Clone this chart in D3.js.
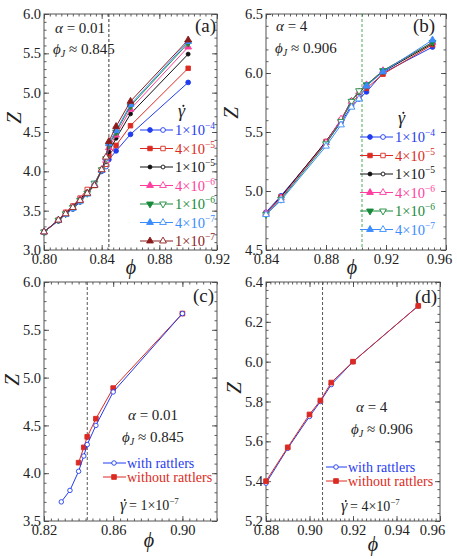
<!DOCTYPE html>
<html>
<head>
<meta charset="utf-8">
<script src="https://cdn.jsdelivr.net/npm/d3@7"></script>
<style>
body { margin: 0; background: #fff; }
</style>
</head>
<body>
<div id="chart"></div>
<script>

// panel (a): alpha = 0.01
var phiA = [0.80, 0.81, 0.815, 0.82, 0.825, 0.83, 0.835, 0.84, 0.843, 0.845, 0.85, 0.86, 0.90];
var zA_1e4 = [3.23, 3.37, 3.46, 3.52, 3.61, 3.72, 3.83, 4.00, 4.06, 4.15, 4.26, 4.47, 5.13];
var zA_4e5 = [3.23, 3.38, 3.48, 3.56, 3.66, 3.77, 3.82, 4.02, 4.09, 4.20, 4.33, 4.58, 5.31];
var zA_1e5 = [3.23, 3.38, 3.47, 3.55, 3.65, 3.74, 3.83, 4.02, 4.12, 4.25, 4.42, 4.73, 5.49];
var zA_4e6 = [3.23, 3.38, 3.46, 3.54, 3.64, 3.72, 3.83, 4.02, 4.14, 4.30, 4.46, 4.79, 5.58];
var zA_1e6 = [3.23, 3.38, 3.46, 3.54, 3.63, 3.72, 3.85, 4.02, 4.16, 4.33, 4.50, 4.83, 5.63];
var zA_4e7 = [3.23, 3.38, 3.45, 3.53, 3.62, 3.71, 3.83, 4.01, 4.17, 4.35, 4.52, 4.85, 5.65];
var zA_1e7 = [3.23, 3.38, 3.46, 3.54, 3.63, 3.72, 3.82, 4.02, 4.18, 4.38, 4.57, 4.89, 5.67];

// panel (b): alpha = 4
var phiB = [0.84, 0.85, 0.88, 0.89, 0.897, 0.902, 0.907, 0.918, 0.951];
var zB_1e4 = [4.82, 4.96, 5.41, 5.58, 5.72, 5.78, 5.84, 6.00, 6.22];
var zB_4e5 = [4.81, 4.95, 5.42, 5.60, 5.75, 5.81, 5.87, 5.99, 6.24];
var zB_1e5 = [4.81, 4.95, 5.42, 5.60, 5.77, 5.83, 5.90, 6.01, 6.25];
var zB_4e6 = [4.81, 4.94, 5.41, 5.61, 5.76, 5.84, 5.90, 6.02, 6.26];
var zB_1e6 = [4.80, 4.93, 5.40, 5.59, 5.76, 5.85, 5.90, 6.02, 6.26];
var zB_4e7 = [4.80, 4.92, 5.38, 5.56, 5.71, 5.78, 5.89, 6.01, 6.28];

// shear rate legend labels (mantissa, exponent)
var rateMant = ["1", "4", "1", "4", "1", "4", "1"];
var rateExp = ["−4", "−5", "−5", "−6", "−6", "−7", "−7"];

// panel (c): alpha = 0.01, rate 1e-7
var phiC_with = [0.83, 0.835, 0.84, 0.843, 0.845, 0.85, 0.86, 0.90];
var zC_with = [3.70, 3.82, 4.02, 4.18, 4.30, 4.50, 4.85, 5.67];
var phiC_without = [0.84, 0.843, 0.845, 0.85, 0.86, 0.90];
var zC_without = [4.11, 4.27, 4.38, 4.57, 4.89, 5.67];

// panel (d): alpha = 4, rate 4e-7
var phiD = [0.88, 0.89, 0.90, 0.905, 0.91, 0.92, 0.95];
var zD_with = [5.39, 5.565, 5.725, 5.80, 5.885, 6.00, 6.28];
var zD_without = [5.40, 5.57, 5.735, 5.805, 5.895, 6.00, 6.28];

var rateColors = ["#1f3cf0", "#dc2a22", "#111111", "#ff3d9e", "#178a3a", "#3a8cff", "#8c1c1c"];
var rateShapes = ["circle", "square", "circle", "tri", "triDown", "tri", "tri"];
var serif = "'Liberation Serif', 'Times New Roman', 'DejaVu Serif', serif";

var svg = d3.select("#chart").append("svg")
    .attr("width", 457)
    .attr("height", 559);

/**
 * Evenly spaced tick values.
 */
var steps = function(lo, hi, step) {
  var out = [];
  var n = Math.round((hi - lo) / step);
  for (var i = 0; i <= n; i++) {
    out.push(+(lo + i * step).toFixed(5));
  }
  return out;
};

var fmtTick = function(d) {
  return d >= 1 ? d3.format(".1f")(d) : d3.format(".2f")(d);
};

/**
 * Draws frame, inward ticks and labels of one panel.
 *
 * @param opt
 */
var drawPanel = function(opt) {
  var b = opt.box;
  var x = d3.scaleLinear().domain(opt.xDomain).range([b.left, b.right]);
  var y = d3.scaleLinear().domain(opt.yDomain).range([b.bottom, b.top]);
  var g = svg.append("g");

  var xMinor = steps(opt.xDomain[0], opt.xDomain[1], opt.xMinor);
  var yMinor = steps(opt.yDomain[0], opt.yDomain[1], opt.yMinor);

  var axes = [
    [d3.axisBottom(x), "translate(0," + b.bottom + ")", xMinor, opt.xTicks, true, 4],
    [d3.axisTop(x), "translate(0," + b.top + ")", xMinor, opt.xTicks, false, 3],
    [d3.axisLeft(y), "translate(" + b.left + ",0)", yMinor, opt.yTicks, true, 3],
    [d3.axisRight(y), "translate(" + b.right + ",0)", yMinor, opt.yTicks, false, 3]
  ];
  axes.forEach(function(a, k) {
    g.append("g").attr("transform", a[1])
        .call(a[0].tickValues(a[2]).tickSize(-2.5).tickFormat(""))
        .call(function(s) { s.select(".domain").remove(); });
    var major = g.append("g").attr("transform", a[1])
        .call(a[0].tickValues(a[3]).tickSize(-5).tickPadding(a[5])
          .tickFormat(a[4] ? fmtTick : ""));
    major.select(".domain").remove();
    major.selectAll("text").style("font-size", "14.5px").attr("fill", "#222");
    // last x label pulled inside the picture edge
    if(k == 0 && opt.lastShift) {
      major.selectAll("text").filter(function(d) { return Math.abs(d - opt.xDomain[1]) < 1e-6; })
          .attr("x", opt.lastShift);
    }
  });
  g.selectAll(".tick line").attr("stroke", "#333").attr("stroke-width", 0.8);

  g.append("rect")
      .attr("x", b.left).attr("y", b.top)
      .attr("width", b.right - b.left).attr("height", b.bottom - b.top)
      .attr("fill", "none").attr("stroke", "#555").attr("stroke-width", 1);

  // dashed phi_J line
  g.append("line")
      .attr("x1", x(opt.phiJ)).attr("x2", x(opt.phiJ))
      .attr("y1", b.top).attr("y2", b.bottom)
      .attr("stroke", opt.jColor).attr("stroke-width", 0.9)
      .attr("stroke-dasharray", "3,2");

  // axis titles
  g.append("text")
      .attr("transform", "translate(" + opt.zPos[0] + "," + opt.zPos[1] + ") rotate(-90)")
      .attr("text-anchor", "middle")
      .style("font-size", "21px").style("font-style", "italic")
      .text("Z");
  g.append("text")
      .attr("x", opt.phiPos[0]).attr("y", opt.phiPos[1])
      .attr("text-anchor", "middle")
      .style("font-size", "20px").style("font-style", "italic")
      .text("ϕ");
  g.append("text")
      .attr("x", opt.tagPos[0]).attr("y", opt.tagPos[1])
      .style("font-size", "19px")
      .text(opt.tag);

  return {g: g, x: x, y: y};
};

/**
 * Returns a symbol path for a marker shape.
 */
var markerPath = function(shape, size) {
  var type = d3.symbolCircle;
  if(shape == "square") type = d3.symbolSquare;
  if(shape == "tri" || shape == "triDown") type = d3.symbolTriangle;
  return d3.symbol().type(type).size(size)();
};

var addMarker = function(g, shape, cx, cy, color, filled, size) {
  g.append("path")
      .attr("d", markerPath(shape, size))
      .attr("transform", "translate(" + cx + "," + cy + ")" + (shape == "triDown" ? " rotate(180)" : ""))
      .attr("fill", filled ? color : "#fff")
      .attr("stroke", color)
      .attr("stroke-width", 0.9);
};

/**
 * Draws one series (line + markers).
 */
var drawSeries = function(p, phis, zs, color, shape, phiJ, size, alwaysFilled, openAlways) {
  var pts = phis.map(function(v, i) { return [v, zs[i]]; });
  var line = d3.line()
      .x(function(d) { return p.x(d[0]); })
      .y(function(d) { return p.y(d[1]); });
  p.g.append("path").datum(pts)
      .attr("d", line)
      .attr("fill", "none")
      .attr("stroke", color)
      .attr("stroke-width", 1);
  pts.forEach(function(d) {
    var filled = alwaysFilled || (!openAlways && d[0] >= phiJ - 1e-9);
    addMarker(p.g, shape, p.x(d[0]), p.y(d[1]), color, filled, size);
  });
};

var mathText = function(g, xPos, yPos, size, parts) {
  var t = g.append("text").attr("x", xPos).attr("y", yPos).style("font-size", size + "px");
  parts.forEach(function(part) {
    var s = t.append("tspan").text(part.t);
    if(part.i) s.style("font-style", "italic");
    if(part.sub) s.attr("dy", 3).style("font-size", (size - 5) + "px");
    if(part.sup) s.attr("dy", -6).style("font-size", (size - 5) + "px");
    if(part.back) s.attr("dy", part.back);
    if(part.fill) s.attr("fill", part.fill);
  });
  return t;
};

/**
 * Gamma with a dot on top (shear rate symbol).
 */
var gammaDot = function(g, xPos, yPos, size) {
  g.append("text").attr("x", xPos).attr("y", yPos)
      .style("font-size", size + "px").style("font-style", "italic")
      .text("γ");
  g.append("circle")
      .attr("cx", xPos + size * 0.3).attr("cy", yPos - size * 0.62)
      .attr("r", size * 0.06).attr("fill", "#222");
};

/**
 * Draws the shear rate legend.
 */
var rateLegend = function(g, x0, y0, n, sizes) {
  gammaDot(g, x0 + 38, y0 - 13, 18);
  for(var i = 0; i < n; i++) {
    var yy = y0 + i * 18.5;
    g.append("line").attr("x1", x0).attr("x2", x0 + 33)
        .attr("y1", yy).attr("y2", yy)
        .attr("stroke", rateColors[i]).attr("stroke-width", 1);
    addMarker(g, rateShapes[i], x0 + 10, yy, rateColors[i], true, sizes[i]);
    addMarker(g, rateShapes[i], x0 + 23, yy, rateColors[i], false, sizes[i]);
    mathText(g, x0 + 35, yy + 5, 14.5, [
      {t: rateMant[i] + "×10", fill: rateColors[i]},
      {t: rateExp[i], sup: true, fill: rateColors[i]}
    ]);
  }
};

var markerSizes = [18, 20, 12, 20, 20, 20, 20];

// ---- panel (a)
var pa = drawPanel({
  box: {left: 44, top: 14, right: 217, bottom: 250},
  xDomain: [0.80, 0.92], yDomain: [3.0, 6.0],
  xTicks: steps(0.80, 0.92, 0.04), yTicks: steps(3.0, 6.0, 0.5),
  xMinor: 0.004, yMinor: 0.1,
  phiJ: 0.845, jColor: "#222",
  zPos: [21, 118], phiPos: [131, 274], tagPos: [195, 32], tag: "(a)"
});
var seriesA = [zA_1e4, zA_4e5, zA_1e5, zA_4e6, zA_1e6, zA_4e7, zA_1e7];
seriesA.forEach(function(zs, i) {
  drawSeries(pa, phiA, zs, rateColors[i], rateShapes[i], 0.845, markerSizes[i]);
});
mathText(pa.g, 55, 33, 15, [{t: "α", i: true}, {t: " = 0.01"}]);
mathText(pa.g, 53, 54, 15, [{t: "ϕ", i: true}, {t: "J", i: true, sub: true}, {t: " ≈ 0.845", back: -3}]);
rateLegend(pa.g, 140, 130, 7, markerSizes);

// ---- panel (b)
var pb = drawPanel({
  box: {left: 266, top: 14, right: 446, bottom: 250},
  xDomain: [0.84, 0.96], yDomain: [4.5, 6.5],
  xTicks: steps(0.84, 0.96, 0.04), yTicks: steps(4.5, 6.5, 0.5),
  xMinor: 0.004, yMinor: 0.1, lastShift: -7,
  phiJ: 0.904, jColor: "#3aa24a",
  zPos: [238, 113], phiPos: [352, 274], tagPos: [413, 32], tag: "(b)"
});
var seriesB = [zB_1e4, zB_4e5, zB_1e5, zB_4e6, zB_1e6, zB_4e7];
seriesB.forEach(function(zs, i) {
  drawSeries(pb, phiB, zs, rateColors[i], rateShapes[i], 0.904, markerSizes[i]);
});
mathText(pb.g, 276, 31, 15, [{t: "α", i: true}, {t: " = 4"}]);
mathText(pb.g, 275, 53, 15, [{t: "ϕ", i: true}, {t: "J", i: true, sub: true}, {t: " ≈ 0.906", back: -3}]);
rateLegend(pb.g, 360, 137, 6, markerSizes);

// ---- panel (c)
var pc = drawPanel({
  box: {left: 44, top: 282, right: 217, bottom: 521},
  xDomain: [0.82, 0.92], yDomain: [3.5, 6.0],
  xTicks: steps(0.82, 0.90, 0.04), yTicks: steps(3.5, 6.0, 0.5),
  xMinor: 0.004, yMinor: 0.1,
  phiJ: 0.845, jColor: "#444",
  zPos: [19, 380], phiPos: [149, 547], tagPos: [193, 302], tag: "(c)"
});
drawSeries(pc, phiC_without, zC_without, "#dc2a22", "square", 0, 22, true, false);
drawSeries(pc, phiC_with, zC_with, "#1f3cf0", "circle", 0, 16, false, true);
mathText(pc.g, 128, 420, 15, [{t: "α", i: true}, {t: " = 0.01"}]);
mathText(pc.g, 122, 442, 15, [{t: "ϕ", i: true}, {t: "J", i: true, sub: true}, {t: " ≈ 0.845", back: -3}]);
pc.g.append("line").attr("x1", 103).attr("x2", 126).attr("y1", 463).attr("y2", 463).attr("stroke", "#1f3cf0");
addMarker(pc.g, "circle", 114, 463, "#1f3cf0", false, 16);
pc.g.append("line").attr("x1", 103).attr("x2", 126).attr("y1", 477).attr("y2", 477).attr("stroke", "#dc2a22");
addMarker(pc.g, "square", 114, 477, "#dc2a22", true, 22);
mathText(pc.g, 127, 468, 14, [{t: "with rattlers", fill: "#1f3cf0"}]);
mathText(pc.g, 127, 482, 14, [{t: "without rattlers", fill: "#dc2a22"}]);
gammaDot(pc.g, 120, 510, 16);
mathText(pc.g, 129, 510, 14, [{t: " = 1×10"}, {t: "−7", sup: true}]);

// ---- panel (d)
var pd = drawPanel({
  box: {left: 266, top: 282, right: 440, bottom: 521},
  xDomain: [0.88, 0.96], yDomain: [5.2, 6.4],
  xTicks: steps(0.88, 0.96, 0.02), yTicks: steps(5.2, 6.4, 0.2),
  xMinor: 0.002, yMinor: 0.04, lastShift: -8,
  phiJ: 0.906, jColor: "#444",
  zPos: [241, 388], phiPos: [373, 551], tagPos: [415, 303], tag: "(d)"
});
drawSeries(pd, phiD, zD_with, "#1f3cf0", "circle", 0, 16, false, true);
drawSeries(pd, phiD, zD_without, "#dc2a22", "square", 0, 22, true, false);
mathText(pd.g, 356, 412, 15, [{t: "α", i: true}, {t: " = 4"}]);
mathText(pd.g, 351, 434, 15, [{t: "ϕ", i: true}, {t: "J", i: true, sub: true}, {t: " ≈ 0.906", back: -3}]);
pd.g.append("line").attr("x1", 326).attr("x2", 347).attr("y1", 467).attr("y2", 467).attr("stroke", "#1f3cf0");
addMarker(pd.g, "circle", 336, 467, "#1f3cf0", false, 16);
pd.g.append("line").attr("x1", 326).attr("x2", 347).attr("y1", 481).attr("y2", 481).attr("stroke", "#dc2a22");
addMarker(pd.g, "square", 336, 481, "#dc2a22", true, 22);
mathText(pd.g, 348, 472, 14, [{t: "with rattlers", fill: "#1f3cf0"}]);
mathText(pd.g, 348, 486, 14, [{t: "without rattlers", fill: "#dc2a22"}]);
gammaDot(pd.g, 341, 511, 16);
mathText(pd.g, 350, 511, 14, [{t: " = 4×10"}, {t: "−7", sup: true}]);

// force serif everywhere (axis groups set their own font-family)
svg.selectAll("text").style("font-family", serif);
svg.selectAll("text:not([fill])").attr("fill", "#222");

</script>
</body>
</html>
